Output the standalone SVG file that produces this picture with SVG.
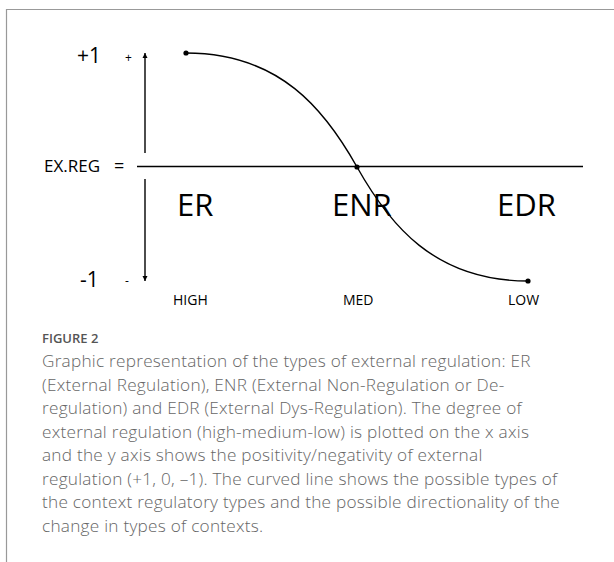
<svg xmlns="http://www.w3.org/2000/svg" width="614" height="562" viewBox="0 0 614 562">
<style>
  .lbl { font-family: "Open Sans", "Liberation Sans", sans-serif; fill: #000; }
  .axis { stroke: #000; stroke-width: 1.4; fill: none; }
  .curve { stroke: #000; stroke-width: 1.4; fill: none; }
  .cap { font-family: "Open Sans", "Liberation Sans", sans-serif; font-size: 17.2px; letter-spacing: 0.25px; fill: #666; font-weight: 300; }
  .fig { font-family: "Open Sans", "Liberation Sans", sans-serif; font-size: 13px; fill: #555; font-weight: 600; }
</style>
<defs>
  <marker id="arr" viewBox="0 0 10 10" refX="10" refY="5" markerWidth="5" markerHeight="9" orient="auto" markerUnits="userSpaceOnUse">
    <path d="M0,0 L10,5 L0,10 Z" fill="#000"/>
  </marker>
</defs>
<rect x="0" y="0" width="614" height="562" fill="#fff"/>
<g id="frame">
  <path d="M6.5,562 V9.5 H614" stroke="#999" stroke-width="1.2" fill="none"/>
</g>
<g id="connectors">
  <line class="axis" x1="145" y1="153" x2="145" y2="53" marker-end="url(#arr)"/>
  <line class="axis" x1="145" y1="179" x2="145" y2="281" marker-end="url(#arr)"/>
  <line class="axis" x1="137" y1="166.5" x2="583" y2="166.5"/>
  <path class="curve" d="M186,53 C280,53 325,110 357,167 C389,224 434,281 528,281"/>
  <circle cx="186" cy="53" r="2.6" fill="#000"/>
  <circle cx="357" cy="167" r="2.6" fill="#000"/>
  <circle cx="528" cy="281" r="2.6" fill="#000"/>
</g>
<g id="axis-labels">
  <text class="lbl" x="77" y="63" font-size="21">+1</text>
  <text class="lbl" x="125" y="61.5" font-size="12">+</text>
  <text class="lbl" x="80" y="287" font-size="21">-1</text>
  <text class="lbl" x="125" y="284.5" font-size="12">-</text>
  <text class="lbl" x="44" y="172" font-size="17">EX.REG</text>
  <text class="lbl" x="114" y="172" font-size="18">=</text>
</g>
<g id="ER"><text class="lbl" x="177" y="216" font-size="31">ER</text></g>
<g id="ENR"><text class="lbl" x="332" y="216" font-size="31">ENR</text></g>
<g id="EDR"><text class="lbl" x="497" y="216" font-size="31">EDR</text></g>
<g id="HIGH"><text class="lbl" x="173" y="305" font-size="14">HIGH</text></g>
<g id="MED"><text class="lbl" x="343" y="305" font-size="14">MED</text></g>
<g id="LOW"><text class="lbl" x="508" y="305" font-size="14">LOW</text></g>
<g id="caption">
  <text class="fig" x="42" y="343">FIGURE 2</text>
  <text class="cap" x="42" y="367">Graphic representation of the types of external regulation: ER</text>
  <text class="cap" x="42" y="390.5">(External Regulation), ENR (External Non-Regulation or De-</text>
  <text class="cap" x="42" y="414">regulation) and EDR (External Dys-Regulation). The degree of</text>
  <text class="cap" x="42" y="437.5">external regulation (high-medium-low) is plotted on the x axis</text>
  <text class="cap" x="42" y="461">and the y axis shows the positivity/negativity of external</text>
  <text class="cap" x="42" y="484.5">regulation (+1, 0, –1). The curved line shows the possible types of</text>
  <text class="cap" x="42" y="508">the context regulatory types and the possible directionality of the</text>
  <text class="cap" x="42" y="531.5">change in types of contexts.</text>
</g>
</svg>
